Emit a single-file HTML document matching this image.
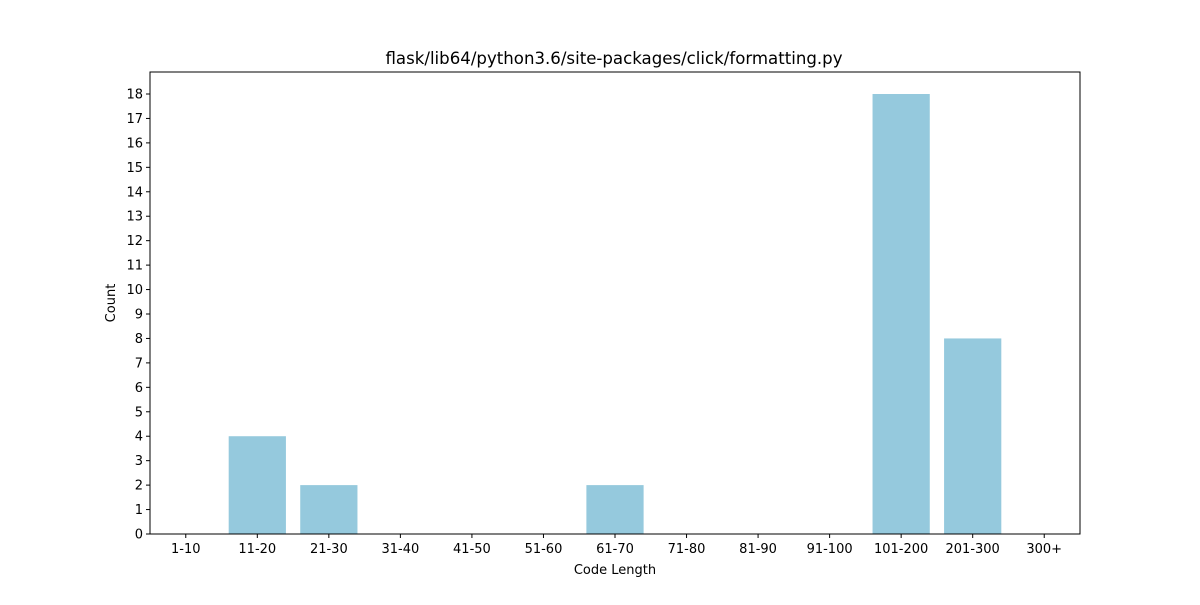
<!DOCTYPE html>
<html><head><meta charset="utf-8"><style>
body{margin:0;background:#fff;}
svg text{font-family:"DejaVu Sans","Liberation Sans",sans-serif;fill:#000;}
</style></head><body>
<svg id="chart" width="1200" height="600" xmlns="http://www.w3.org/2000/svg">
<rect width="1200" height="600" fill="#fff"/>
<text x="614" y="64" font-size="16.6" text-anchor="middle">flask/lib64/python3.6/site-packages/click/formatting.py</text>
<g id="bars"></g>
<g id="xticks"></g>
<g id="yticks"></g>
<rect x="150" y="72" width="930" height="462" fill="none" stroke="#000" stroke-width="1"/>
<text x="615" y="574" font-size="13" text-anchor="middle">Code Length</text>
<text x="115" y="303" font-size="13" text-anchor="middle" transform="rotate(-90 115 303)">Count</text>
</svg>
<script>
const categories=["1-10","11-20","21-30","31-40","41-50","51-60","61-70","71-80","81-90","91-100","101-200","201-300","300+"];
const counts=[0,4,2,0,0,0,2,0,0,0,18,8,0];
const yTicks=[0,1,2,3,4,5,6,7,8,9,10,11,12,13,14,15,16,17,18];
const NS="http://www.w3.org/2000/svg";
const L=150,R=1080,T=72,B=534,yMax=18.9;
const xs=i=>L+(i+0.5)*(R-L)/categories.length;
const ys=v=>B-v*(B-T)/yMax;
const bw=0.8*(R-L)/categories.length;
const bars=document.getElementById('bars'),xt=document.getElementById('xticks'),yt=document.getElementById('yticks');
categories.forEach((c,i)=>{
  const r=document.createElementNS(NS,'rect');
  r.setAttribute('x',xs(i)-bw/2);r.setAttribute('y',ys(counts[i]));
  r.setAttribute('width',bw);r.setAttribute('height',B-ys(counts[i]));
  r.setAttribute('fill','#95c9dd');
  
  
  bars.appendChild(r);
  const l=document.createElementNS(NS,'line');
  l.setAttribute('x1',xs(i));l.setAttribute('x2',xs(i));l.setAttribute('y1',B);l.setAttribute('y2',B+4);l.setAttribute('stroke','#000');
  xt.appendChild(l);
  const t=document.createElementNS(NS,'text');
  t.setAttribute('x',xs(i));t.setAttribute('y',B+19);t.setAttribute('font-size','13');t.setAttribute('text-anchor','middle');
  t.textContent=c;
  
  
  xt.appendChild(t);
});
yTicks.forEach(v=>{
  const l=document.createElementNS(NS,'line');
  l.setAttribute('x1',L-4);l.setAttribute('x2',L);l.setAttribute('y1',ys(v));l.setAttribute('y2',ys(v));l.setAttribute('stroke','#000');
  yt.appendChild(l);
  const t=document.createElementNS(NS,'text');
  t.setAttribute('x',L-7);t.setAttribute('y',ys(v)+4.5);t.setAttribute('font-size','13');t.setAttribute('text-anchor','end');
  t.textContent=v;
  
  
  yt.appendChild(t);
});
</script>
</body></html>
